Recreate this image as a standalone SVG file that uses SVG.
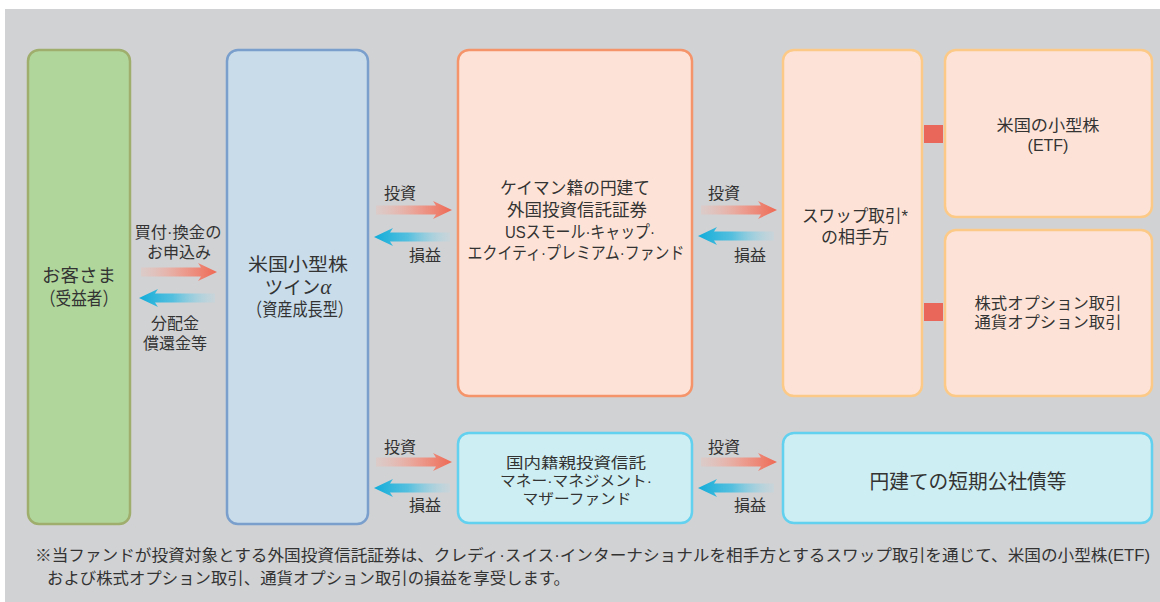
<svg xmlns="http://www.w3.org/2000/svg" xmlns:xlink="http://www.w3.org/1999/xlink" width="1160" height="602" viewBox="0 0 1160 602">
<style>
  text { font-family: "Liberation Sans", "Noto Sans CJK JP", sans-serif; fill: #333333; text-anchor: middle; dominant-baseline: central; }
  .lbl { font-size: 16px; }
  .b17 { font-size: 17px; }
  .big { font-size: 18.5px; }
  .fn { font-size: 16px; text-anchor: start; }
  .box { stroke-width: 2.5; }
  .green { fill: #b0d69c; stroke: #9fae6c; }
  .blue { fill: #c8dcea; stroke: #7a9fcd; }
  .salmon { fill: #fde3d7; stroke: #f5946a; }
  .peach { fill: #fde3d7; stroke: #fcca86; }
  .aqua { fill: #cdeef2; stroke: #62d0ef; }
  .sq { fill: #e8675a; }
</style>
<defs>
  <linearGradient id="gR" x1="0" y1="0" x2="1" y2="0">
    <stop offset="0" stop-color="#f7b8aa" stop-opacity="0.25"/>
    <stop offset="0.55" stop-color="#f2907f" stop-opacity="0.8"/>
    <stop offset="1" stop-color="#ee6853"/>
  </linearGradient>
  <linearGradient id="gL" x1="0" y1="0" x2="1" y2="0">
    <stop offset="0" stop-color="#10acd9"/>
    <stop offset="0.45" stop-color="#3fbce0" stop-opacity="0.85"/>
    <stop offset="1" stop-color="#a8dcec" stop-opacity="0.2"/>
  </linearGradient>
  <path id="arrR" d="M0,-4.5 H60 L57,-9 L76,0 L57,9 L60,4.5 H0 Z" fill="url(#gR)"/>
  <path id="arrL" d="M76,-4.5 H16 L19,-9 L0,0 L19,9 L16,4.5 H76 Z" fill="url(#gL)"/>
</defs>

<rect x="0" y="0" width="1160" height="602" fill="#ffffff"/>
<rect x="5" y="9" width="1155" height="593" fill="#d1d2d4"/>

<g id="customer">
  <rect class="box green" x="28" y="50" width="102" height="474" rx="11"/>
  <text class="big"><tspan x="79" y="275">お客さま</tspan><tspan x="79" y="298" textLength="78" lengthAdjust="spacingAndGlyphs">（受益者）</tspan></text>
</g>

<g id="fund">
  <rect class="box blue" x="227" y="50" width="141" height="474" rx="11"/>
  <text class="big"><tspan x="298" y="264" textLength="100" lengthAdjust="spacingAndGlyphs">米国小型株</tspan><tspan x="298" y="287">ツイン<tspan font-family="Liberation Serif, serif" font-style="italic" font-size="21">α</tspan></tspan><tspan x="300" y="309" textLength="106" lengthAdjust="spacingAndGlyphs">（資産成長型）</tspan></text>
</g>

<g id="cayman">
  <rect class="box salmon" x="458" y="50" width="234" height="346" rx="11"/>
  <text class="b17"><tspan x="575" y="188" textLength="150" lengthAdjust="spacingAndGlyphs">ケイマン籍の円建て</tspan><tspan x="577" y="210" textLength="140" lengthAdjust="spacingAndGlyphs">外国投資信託証券</tspan><tspan x="580" y="232" textLength="150" lengthAdjust="spacingAndGlyphs">USスモール·キャップ·</tspan><tspan x="576" y="253" textLength="217" lengthAdjust="spacingAndGlyphs">エクイティ·プレミアム·ファンド</tspan></text>
</g>

<g id="swap">
  <rect class="box peach" x="783" y="50" width="139" height="346" rx="11"/>
  <text class="b17"><tspan x="855" y="216" textLength="106" lengthAdjust="spacingAndGlyphs">スワップ取引*</tspan><tspan x="855" y="237">の相手方</tspan></text>
</g>

<g id="etf">
  <rect class="box peach" x="945" y="50" width="207" height="167" rx="11"/>
  <text font-size="16"><tspan x="1048" y="125" textLength="103" lengthAdjust="spacingAndGlyphs">米国の小型株</tspan><tspan x="1048" y="145">(ETF)</tspan></text>
</g>

<g id="options">
  <rect class="box peach" x="945" y="230" width="207" height="166" rx="11"/>
  <text font-size="15.5"><tspan x="1048" y="303" textLength="147" lengthAdjust="spacingAndGlyphs">株式オプション取引</tspan><tspan x="1048" y="322" textLength="147" lengthAdjust="spacingAndGlyphs">通貨オプション取引</tspan></text>
</g>

<g id="mother">
  <rect class="box aqua" x="458" y="433" width="234" height="90" rx="11"/>
  <text font-size="15"><tspan x="576" y="462" textLength="140" lengthAdjust="spacingAndGlyphs">国内籍親投資信託</tspan><tspan x="576" y="480" textLength="152" lengthAdjust="spacingAndGlyphs">マネー·マネジメント·</tspan><tspan x="577" y="498" textLength="109" lengthAdjust="spacingAndGlyphs">マザーファンド</tspan></text>
</g>

<g id="bonds">
  <rect class="box aqua" x="783" y="433" width="369" height="90" rx="11"/>
  <text x="968" y="482" font-size="20" textLength="197" lengthAdjust="spacingAndGlyphs">円建ての短期公社債等</text>
</g>

<g id="connectors">
  <use href="#arrR" x="141" y="272"/>
  <use href="#arrL" x="139" y="298"/>
  <text class="lbl"><tspan x="178" y="232" textLength="87" lengthAdjust="spacingAndGlyphs">買付·換金の</tspan><tspan x="179" y="252">お申込み</tspan></text>
  <text class="lbl"><tspan x="175" y="323">分配金</tspan><tspan x="175" y="343">償還金等</tspan></text>

  <use href="#arrR" x="376" y="210"/>
  <use href="#arrL" x="374" y="237"/>
  <text class="lbl" x="400" y="193">投資</text>
  <text class="lbl" x="425" y="255">損益</text>

  <use href="#arrR" x="701" y="210"/>
  <use href="#arrL" x="698" y="236"/>
  <text class="lbl" x="724" y="193">投資</text>
  <text class="lbl" x="750" y="255">損益</text>

  <use href="#arrR" x="376" y="462"/>
  <use href="#arrL" x="374" y="488"/>
  <text class="lbl" x="400" y="447">投資</text>
  <text class="lbl" x="425" y="505">損益</text>

  <use href="#arrR" x="701" y="462"/>
  <use href="#arrL" x="698" y="488"/>
  <text class="lbl" x="724" y="447">投資</text>
  <text class="lbl" x="750" y="505">損益</text>

  <rect class="sq" x="924" y="125" width="19" height="18"/>
  <rect class="sq" x="924" y="303" width="19" height="18"/>
</g>

<g id="footnote">
  <text class="fn"><tspan x="35" y="555" textLength="1115" lengthAdjust="spacingAndGlyphs">※当ファンドが投資対象とする外国投資信託証券は、クレディ·スイス·インターナショナルを相手方とするスワップ取引を通じて、米国の小型株(ETF)</tspan><tspan x="47" y="578" textLength="523" lengthAdjust="spacingAndGlyphs">および株式オプション取引、通貨オプション取引の損益を享受します。</tspan></text>
</g>
</svg>
